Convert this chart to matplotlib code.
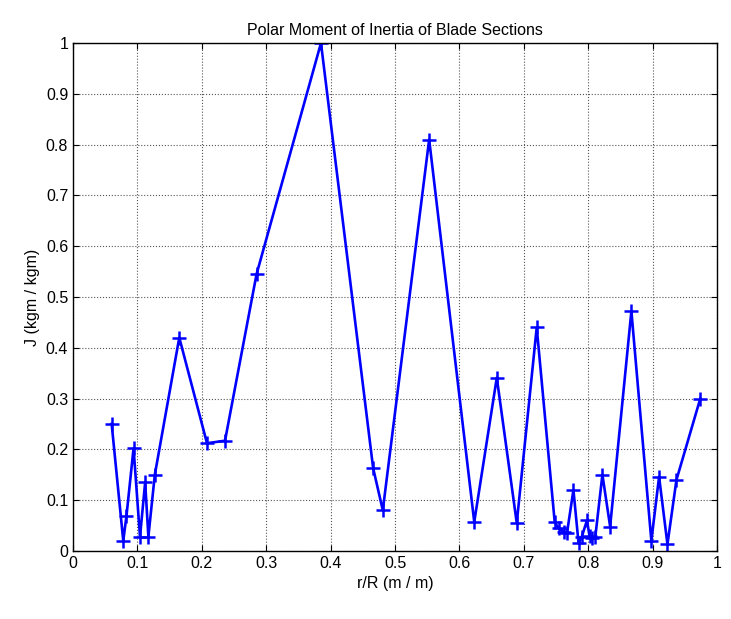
import numpy as np
import matplotlib
matplotlib.use("Agg")
import matplotlib.pyplot as plt

plt.rcParams['font.family'] = ['Liberation Sans', 'DejaVu Sans']

# section positions (r/R) and normalised polar moment of inertia
r_R = [0.060, 0.078, 0.083, 0.094, 0.104, 0.112, 0.117, 0.127, 0.165, 0.208,
       0.236, 0.285, 0.385, 0.466, 0.481, 0.553, 0.623, 0.658, 0.689, 0.720,
       0.748, 0.754, 0.762, 0.767, 0.777, 0.785, 0.790, 0.798, 0.802, 0.806,
       0.811, 0.822, 0.834, 0.867, 0.898, 0.910, 0.923, 0.937, 0.974]
J = [0.250, 0.020, 0.069, 0.202, 0.028, 0.135, 0.028, 0.150, 0.420, 0.212,
     0.217, 0.545, 1.000, 0.163, 0.080, 0.810, 0.057, 0.341, 0.055, 0.440,
     0.056, 0.045, 0.038, 0.035, 0.120, 0.015, 0.028, 0.060, 0.030, 0.025,
     0.028, 0.150, 0.048, 0.472, 0.020, 0.146, 0.013, 0.140, 0.300]

xticks = np.arange(0, 1.01, 0.1)
yticks = np.arange(0, 1.01, 0.1)
tick_labels = ['0', '0.1', '0.2', '0.3', '0.4', '0.5', '0.6', '0.7', '0.8', '0.9', '1']

fig = plt.figure(figsize=(7.31, 6.19), dpi=100)
ax = fig.add_axes([0.0999, 0.110, 0.881, 0.8205])

ax.plot(r_R, J, color='#0000ff', lw=1.9, marker='+', ms=10, mew=1.8)

ax.set_xlim(0, 1)
ax.set_ylim(0, 1)
ax.set_xticks(xticks)
ax.set_yticks(yticks)
ax.set_xticklabels(tick_labels, fontsize=11.5)
ax.set_yticklabels(tick_labels, fontsize=11.5)
ax.tick_params(direction='in', top=True, right=True, length=4, width=0.8)
ax.grid(True, color='#555555', linestyle=':', linewidth=0.8)
for s in ax.spines.values():
    s.set_linewidth(1.0)

ax.set_title('Polar Moment of Inertia of Blade Sections', fontsize=11.5)
ax.set_xlabel('r/R (m / m)', fontsize=11.5)
ax.set_ylabel('J (kgm / kgm)', fontsize=11.5)

fig.savefig('out.png', dpi=100)
